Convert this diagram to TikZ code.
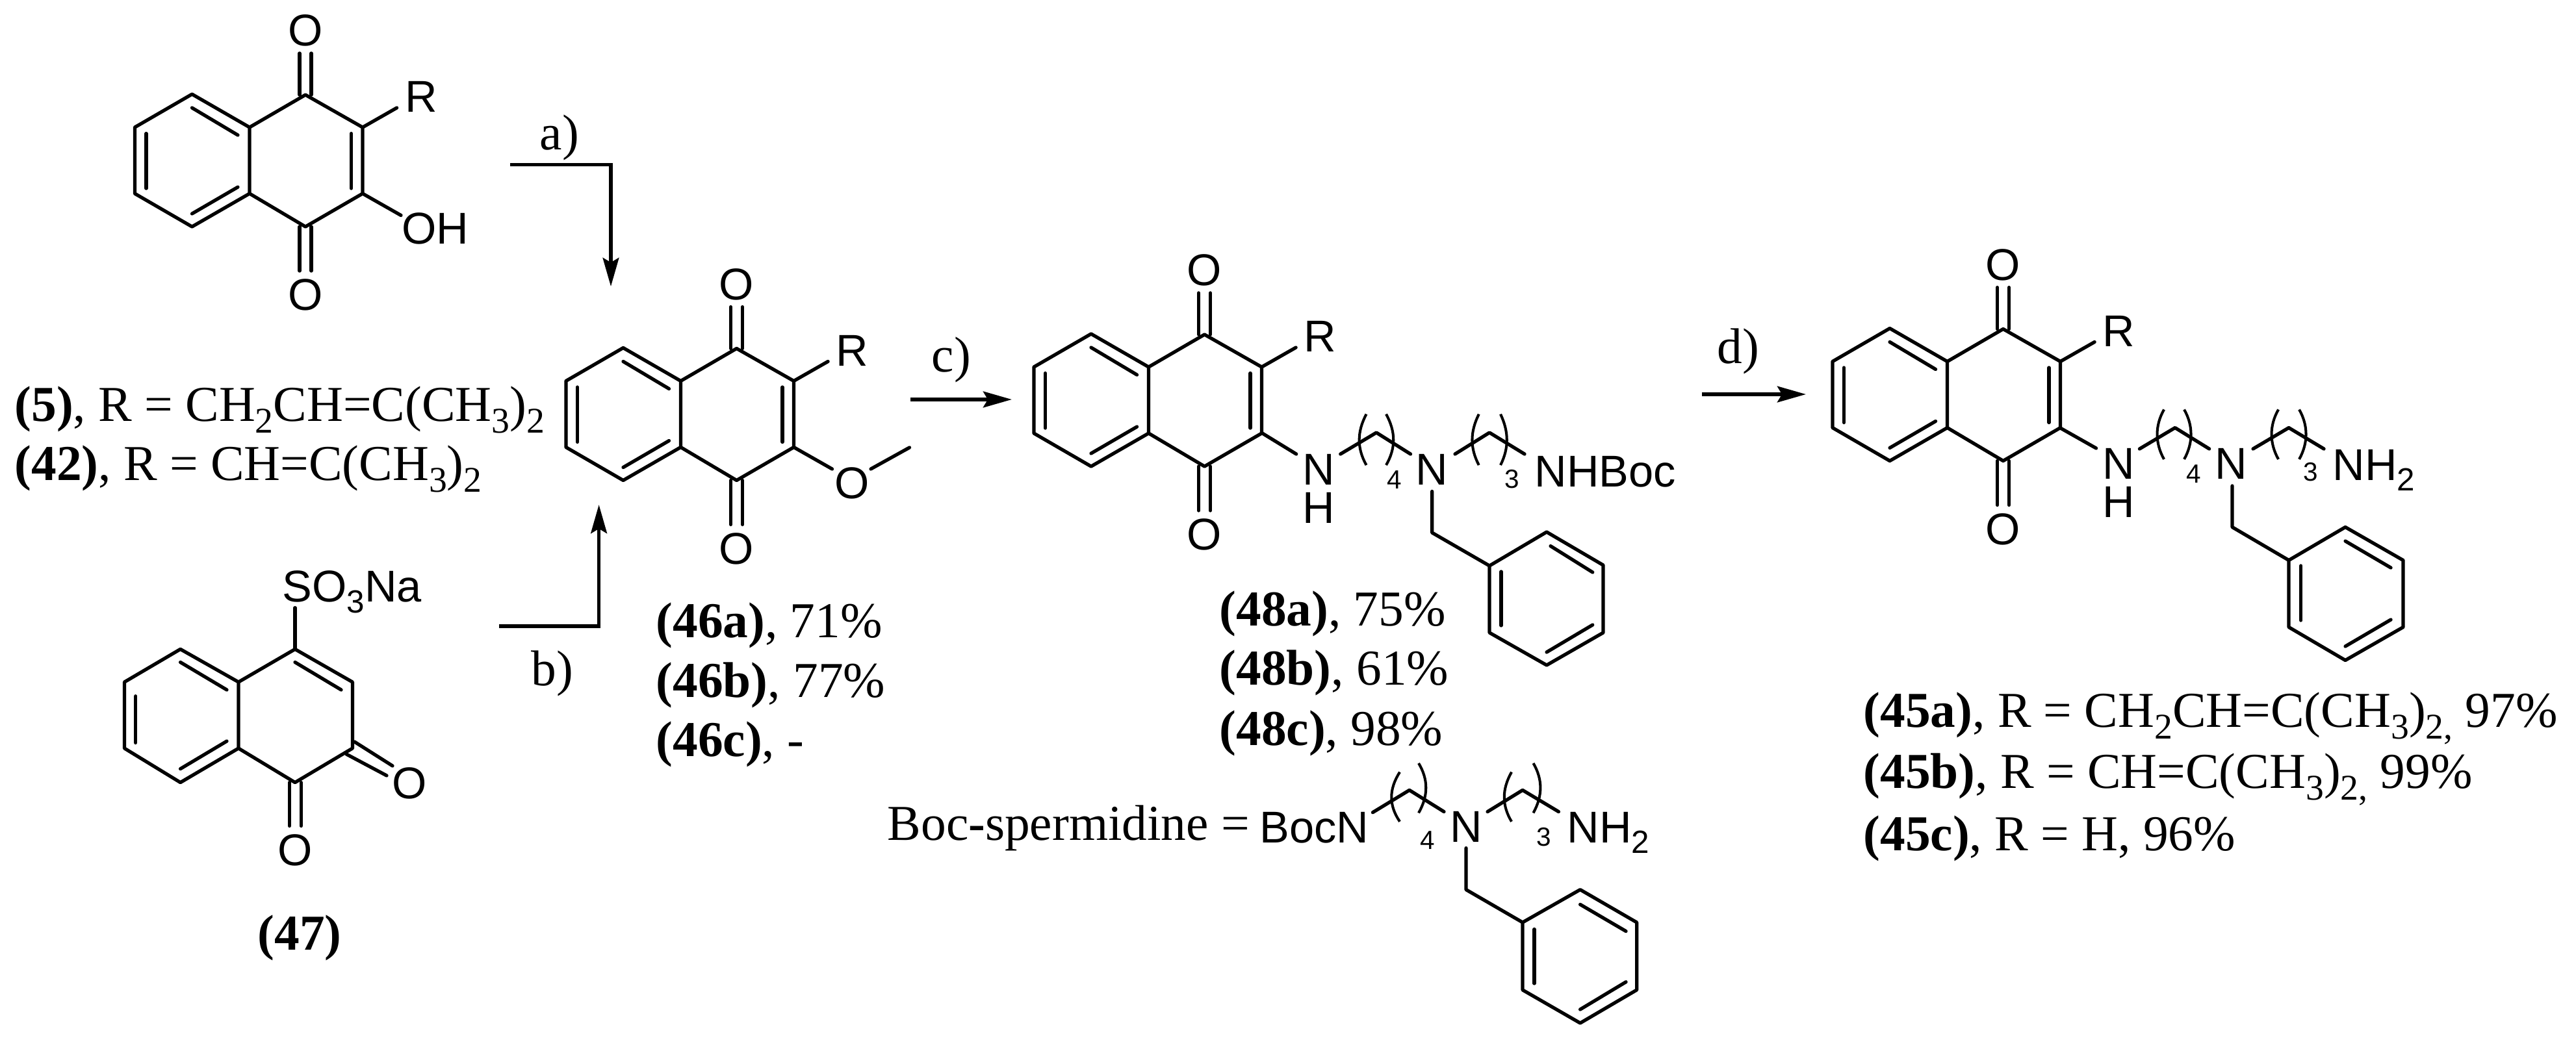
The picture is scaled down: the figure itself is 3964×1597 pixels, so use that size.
\documentclass[tikz,border=0pt]{standalone}
\usepackage{fontspec}
\setmainfont{Liberation Serif}
\newfontfamily\atomfont{Liberation Sans}
\usetikzlibrary{arrows.meta}

\tikzset{
	bond/.style={line width=1.5pt,line cap=round,line join=round},
	brack/.style={line width=1.15pt},
	react/.style={line width=1.6pt,-{Stealth[length=12.5pt,width=7pt,inset=2pt]}},
	atom/.style={inner sep=0pt,font=\atomfont\fontsize{19.5}{21}\selectfont},
	atomtxt/.style={atom,anchor=base west},
	idx/.style={inner sep=0pt,font=\atomfont\fontsize{11.5}{12}\selectfont},
	txt/.style={inner sep=0pt,anchor=base west,font=\fontsize{22}{26}\selectfont},
	step label/.style={inner sep=0pt,font=\fontsize{22}{26}\selectfont}
}
\newcommand{\chemsub}[1]{\raisebox{-.24em}{\scalebox{.72}{#1}}}

% quinone skeleton, #1 names the two oxygens
\newcommand{\quinone}[1]{
	\draw[bond] (295.5,145) -- (207.4,196) -- (207.4,298) -- (295.5,349) -- (384,298) -- (384,196) -- cycle;
	\draw[bond] (384,196) -- (470,146) -- (558,196) -- (558,298) -- (470,349) -- (384,298);
	\draw[bond] (295.5,166) -- (366,208);
	\draw[bond] (225,205.5) -- (225,290);
	\draw[bond] (295.5,329) -- (366,288);
	\draw[bond] (540.5,205.5) -- (540.5,290);
	\draw[bond] (461,82) -- (461,146);
	\draw[bond] (479,82) -- (479,146);
	\draw[bond] (461,349) -- (461,417);
	\draw[bond] (479,349) -- (479,417);
	\node[atom] (#1top) at (470,47) {O};
	\node[atom] (#1bot) at (470,454) {O};
}

\begin{document}
\begin{tikzpicture}[x=0.01cm,y=-0.01cm]
	\useasboundingbox (0,0) rectangle (3964,1597);

	%compound 5
	\begin{scope}
		\quinone{five}
		\draw[bond] (558,196) -- (610.6,166);
		\draw[bond] (558,298) -- (617,331.5);
		\node[atom] (fiveR) at (648,149) {R};
		\node[atom] (fiveOH) at (670,352) {OH};
	\end{scope}
	\node[txt] (lab5) at (22,648) {\textbf{(5)}, R = CH\chemsub{2}CH=C(CH\chemsub{3})\chemsub{2}};
	\node[txt] (lab42) at (22,739) {\textbf{(42)}, R = CH=C(CH\chemsub{3})\chemsub{2}};

	%compound 47
	\draw[bond] (277.6,999.4) -- (191.5,1050) -- (191.5,1152) -- (277.6,1204.6) -- (367,1152) -- (367,1050) -- cycle;
	\draw[bond] (367,1050) -- (454,999.4) -- (542.4,1050) -- (542.4,1152) -- (454,1204.6) -- (367,1152);
	\draw[bond] (277.6,1019.5) -- (349,1062);
	\draw[bond] (208.7,1071.7) -- (208.7,1143.5);
	\draw[bond] (277.6,1183.6) -- (349,1141);
	\draw[bond] (454,1019.5) -- (525,1062);
	\draw[bond] (454,935.6) -- (454,999.4);
	\draw[bond] (545.6,1142) -- (604,1179);
	\draw[bond] (533,1161) -- (595,1194);
	\draw[bond] (445.4,1204.6) -- (445.4,1271.5);
	\draw[bond] (463.3,1204.6) -- (463.3,1271.5);
	\node[atomtxt] (so3na) at (434,926.7) {SO\chemsub{3}Na};
	\node[atom] (sevenOa) at (630,1206) {O};
	\node[atom] (sevenOb) at (454,1308.5) {O};
	\node[txt,anchor=base] (lab47) at (461,1462) {\textbf{(47)}};

	%step a
	\coordinate (astart) at (785,253.5);
	\coordinate (acorner) at (940,253.5);
	\coordinate (aend) at (940,441);
	\draw[react] (astart) -- (acorner) -- (aend);
	\node[step label] (laba) at (861,212) {a)};

	%step b
	\coordinate (bstart) at (768,964);
	\coordinate (bcorner) at (921.6,964);
	\coordinate (bend) at (921.6,777);
	\draw[react] (bstart) -- (bcorner) -- (bend);
	\node[step label] (labb) at (850,1037) {b)};

	%compound 46
	\begin{scope}[shift={(663.5,390.5)}]
		\quinone{six}
		\draw[bond] (558,196) -- (610.6,166);
		\draw[bond] (558,298) -- (617,331.5);
		\draw[bond] (676.5,331.5) -- (736,298.5);
		\node[atom] (sixR) at (648,149) {R};
		\node[atom] (sixO) at (648,353) {O};
	\end{scope}
	\node[txt] (lab46a) at (1009,981) {\textbf{(46a)}, 71\%};
	\node[txt] (lab46b) at (1009,1073) {\textbf{(46b)}, 77\%};
	\node[txt] (lab46c) at (1009,1164) {\textbf{(46c)}, -};

	%step c
	\coordinate (cstart) at (1401,615);
	\coordinate (cend) at (1557,615);
	\draw[react] (cstart) -- (cend);
	\node[step label] (labc) at (1464,554) {c)};

	%compound 48
	\begin{scope}[shift={(1383.5,369)}]
		\quinone{eight}
		\draw[bond] (558,196) -- (610.6,166);
		\node[atom] (eightR) at (648,149) {R};
	\end{scope}
	\draw[bond] (1942.5,667) -- (1994.7,699);
	\draw[bond] (2062.7,699) -- (2118,666) -- (2170.5,699);
	\draw[bond] (2239,699) -- (2292,666) -- (2346,699);
	\draw[bond] (2203.6,756.5) -- (2203.6,820) -- (2292,871);
	\draw[bond] (2292,871) -- (2380,819) -- (2467,870) -- (2467,974) -- (2380,1024) -- (2292,974) -- cycle;
	\draw[bond] (2386,840.6) -- (2450.7,881);
	\draw[bond] (2310,880) -- (2310,963);
	\draw[bond] (2380,1004) -- (2450.7,962);
	\draw[brack] (2102.5,637.6) .. controls (2088,665) and (2088,690) .. (2102.5,716);
	\draw[brack] (2133,637.6) .. controls (2148,665) and (2148,690) .. (2133,716);
	\draw[brack] (2275.7,637.6) .. controls (2262,665) and (2262,690) .. (2275.7,716);
	\draw[brack] (2309,637.6) .. controls (2322,665) and (2322,690) .. (2309,716);
	\node[atom] (eightNa) at (2029.5,723) {N};
	\node[atom] (eightH) at (2029.5,782) {H};
	\node[atom] (eightNb) at (2203.6,723) {N};
	\node[atomtxt] (nhboc) at (2361,749) {NHBoc};
	\node[idx] (eightfour) at (2145.6,738.6) {4};
	\node[idx] (eightthree) at (2326.3,737.6) {3};
	\node[txt] (lab48a) at (1876,963) {\textbf{(48a)}, 75\%};
	\node[txt] (lab48b) at (1876,1054) {\textbf{(48b)}, 61\%};
	\node[txt] (lab48c) at (1876,1147) {\textbf{(48c)}, 98\%};

	%boc-spermidine
	\node[txt] (labboc) at (1365,1293) {Boc{\bfseries -}spermidine =};
	\draw[bond] (2112.4,1250.7) -- (2168.8,1216.4) -- (2222,1249.6);
	\draw[bond] (2289,1249.6) -- (2343,1216.4) -- (2398.4,1249.6);
	\draw[bond] (2256,1305.6) -- (2256,1369.6) -- (2343,1420);
	\draw[bond] (2343,1420) -- (2431.6,1369.6) -- (2518.6,1420) -- (2518.6,1524) -- (2431.6,1575) -- (2343,1524) -- cycle;
	\draw[bond] (2431.6,1392.4) -- (2502,1433.6);
	\draw[bond] (2361,1430.5) -- (2361,1514);
	\draw[bond] (2431.6,1554) -- (2502,1511.7);
	\draw[brack] (2154,1188.6) .. controls (2137,1215) and (2137,1240) .. (2154,1264.8);
	\draw[brack] (2183,1175) .. controls (2198,1200) and (2198,1225) .. (2183,1251.5);
	\draw[brack] (2326,1188.6) .. controls (2311,1215) and (2311,1240) .. (2326,1264.8);
	\draw[brack] (2359.5,1175) .. controls (2374,1200) and (2374,1225) .. (2359.5,1251.5);
	\node[atomtxt] (bocn) at (1938,1297) {BocN};
	\node[atom] (bocNb) at (2256,1272.4) {N};
	\node[atomtxt] (bocnh) at (2411,1297) {NH\chemsub{2}};
	\node[idx] (bocfour) at (2197,1293.4) {4};
	\node[idx] (bocthree) at (2376,1288.8) {3};

	%step d
	\coordinate (dstart) at (2619,607);
	\coordinate (dend) at (2779,607);
	\draw[react] (dstart) -- (dend);
	\node[step label] (labd) at (2675,541) {d)};

	%compound 45
	\begin{scope}[shift={(2612.5,360.5)}]
		\quinone{four}
		\draw[bond] (558,196) -- (610.6,166);
		\node[atom] (fourR) at (648,149) {R};
	\end{scope}
	\draw[bond] (3171.5,659.5) -- (3225.5,690);
	\draw[bond] (3292.4,691) -- (3347,658.5) -- (3399.6,691);
	\draw[bond] (3467,691) -- (3522,658.5) -- (3576,691);
	\draw[bond] (3435,748) -- (3435,811.5) -- (3522,862.5);
	\draw[bond] (3522,862.5) -- (3609,811.5) -- (3698,862.5) -- (3698,965.5) -- (3609,1016.5) -- (3522,965.5) -- cycle;
	\draw[bond] (3609,833) -- (3679,874);
	\draw[bond] (3540.7,871) -- (3540.7,955);
	\draw[bond] (3609,995) -- (3679,954);
	\draw[brack] (3330,630.5) .. controls (3316,655) and (3316,682) .. (3330,707);
	\draw[brack] (3361,630.5) .. controls (3375,655) and (3375,682) .. (3361,707);
	\draw[brack] (3506,630.5) .. controls (3492,655) and (3492,682) .. (3506,707);
	\draw[brack] (3538,630.5) .. controls (3552,655) and (3552,682) .. (3538,707);
	\node[atom] (fourNa) at (3260,714) {N};
	\node[atom] (fourH) at (3260,773) {H};
	\node[atom] (fourNb) at (3433.5,714) {N};
	\node[atomtxt] (nhtwo) at (3589,739) {NH\chemsub{2}};
	\node[idx] (fourfour) at (3375.4,729.4) {4};
	\node[idx] (fourthree) at (3556,727) {3};
	\node[txt] (lab45a) at (2867,1119) {\textbf{(45a)}, R = CH\chemsub{2}CH=C(CH\chemsub{3})\chemsub{2,} 97\%};
	\node[txt] (lab45b) at (2867,1213) {\textbf{(45b)}, R = CH=C(CH\chemsub{3})\chemsub{2,} 99\%};
	\node[txt] (lab45c) at (2867,1309) {\textbf{(45c)}, R = H, 96\%};
\end{tikzpicture}
\end{document}
